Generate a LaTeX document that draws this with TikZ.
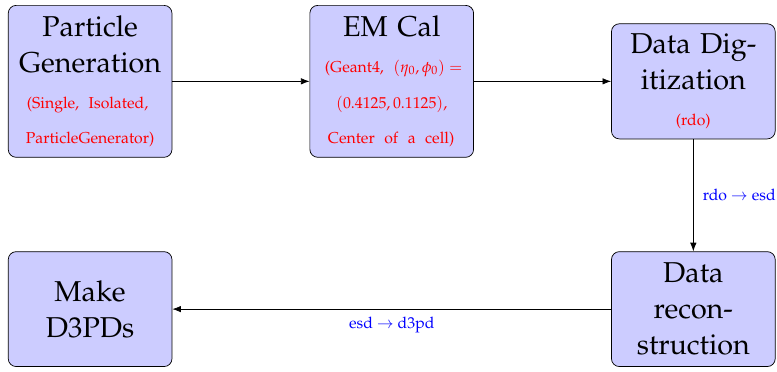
\documentclass[tikz,border=0pt]{standalone}
\usepackage[T1]{fontenc}
\usepackage{mathpazo}
\usepackage{amsmath}
\usetikzlibrary{positioning, calc, arrows.meta}

% small red details inside a stage box
\newcommand{\stagenote}[1]{{\color{red}\fontsize{11}{25}\selectfont #1}}

\begin{document}
\begin{tikzpicture}[>={Latex[length=6pt,width=4.5pt]},
    stage/.style={draw, line width=0.5pt, rounded corners=5.5pt, fill=blue!20,
      text width=100pt, inner sep=7pt, minimum height=80pt, align=center,
      font=\fontsize{20}{25}\selectfont},
    flowlabel/.style={text=blue, font=\fontsize{11}{13}\selectfont},
    node distance=95.5pt and 95.5pt]

    % Top row
    \node[stage] (gen) {Particle\\Generation\\
        \stagenote{\makebox[88pt][s]{(Single, Isolated,}}\\
        \stagenote{ParticleGenerator)}};
    \node[stage, right=of gen] (emcal) {EM Cal\\
        \stagenote{\makebox[93pt][s]{(Geant4, $(\eta_0,\phi_0)=$}}\\
        \stagenote{$(0.4125,0.1125)$,}\\
        \stagenote{\makebox[89pt][s]{Center of a cell)}}};
    \node[stage, right=of emcal] (digi) {Data Dig-\\itization\\
        \stagenote{(rdo)}};

    % Bottom row
    \node[stage, below=78pt of digi] (reco) {Data\\recon-\\struction};
    \node[stage] (dpd) at (gen |- reco) {Make\\D3PDs};

    % Connectors
    \draw[->, line width=0.5pt] (gen) -- (emcal);
    \draw[->, line width=0.5pt] (emcal) -- (digi);
    \draw[->, line width=0.5pt] (digi) -- node[right=3pt, flowlabel] {rdo $\rightarrow$ esd} (reco);
    \draw[->, line width=0.5pt] (reco) -- node[below=2pt, flowlabel] {esd $\rightarrow$ d3pd} (dpd);

    \pgfresetboundingbox
    \useasboundingbox ($(gen.north west)+(-5.5pt,3.5pt)$) rectangle ($(reco.south east)+(1pt,-3.5pt)$);
\end{tikzpicture}
\end{document}
